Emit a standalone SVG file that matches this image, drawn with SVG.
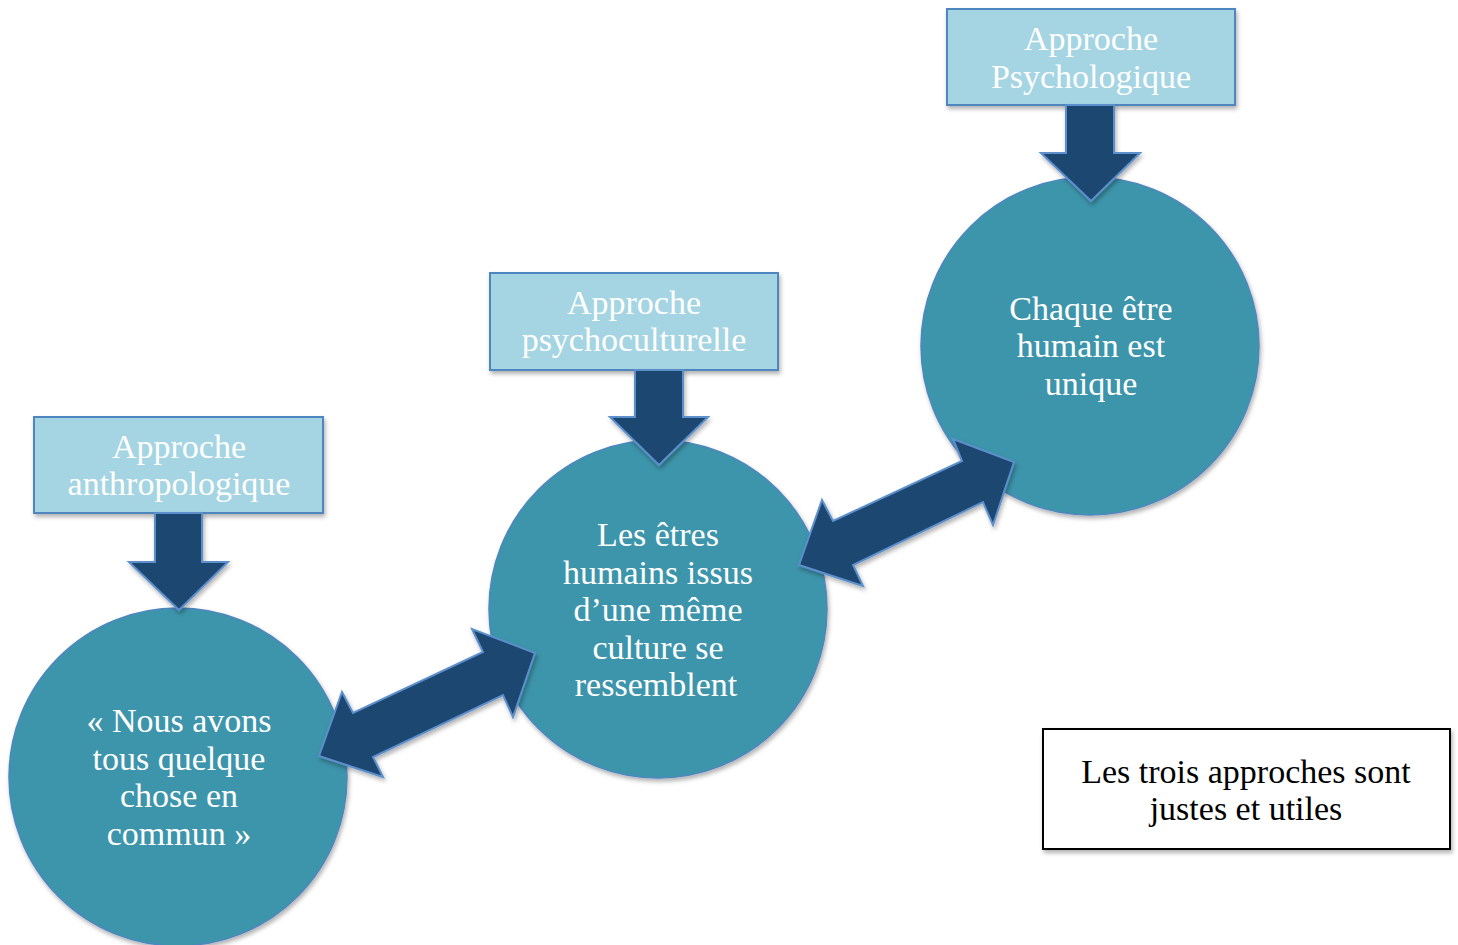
<svg xmlns="http://www.w3.org/2000/svg" width="1458" height="945" viewBox="0 0 1458 945">
<defs>
<filter id="sh" x="-10%" y="-10%" width="130%" height="130%">
<feDropShadow dx="1.5" dy="3" stdDeviation="2" flood-color="#000" flood-opacity="0.3"/>
</filter>
<style>
.circ{fill:#3d95ab;stroke:#4f86c0;stroke-width:1.5}
.box{fill:#a5d5e3;stroke:#4f86c0;stroke-width:2}
.arr{fill:#1f4670;stroke:#5b8fcc;stroke-width:2;stroke-linejoin:miter}
.note{fill:#fff;stroke:#000;stroke-width:2}
text{font-family:"Liberation Serif","Times New Roman",serif;font-size:34px;text-anchor:middle}
.w{fill:#fff}
.k{fill:#000}
</style>
</defs>
<rect width="1458" height="945" fill="#fff"/>

<g id="circle-anthropologique">
<circle class="circ" cx="178" cy="777" r="169" filter="url(#sh)"/>
<text class="w" x="179" y="732">« Nous avons</text>
<text class="w" x="179" y="770">tous quelque</text>
<text class="w" x="179" y="807">chose en</text>
<text class="w" x="179" y="845">commun »</text>
</g>

<g id="circle-psychoculturelle">
<circle class="circ" cx="658" cy="609" r="169" filter="url(#sh)"/>
<text class="w" x="658" y="546">Les êtres</text>
<text class="w" x="658" y="584">humains issus</text>
<text class="w" x="658" y="621">d’une même</text>
<text class="w" x="658" y="659">culture se</text>
<text class="w" x="656" y="696">ressemblent</text>
</g>

<g id="circle-psychologique">
<circle class="circ" cx="1090" cy="346" r="169" filter="url(#sh)"/>
<text class="w" x="1091" y="320">Chaque être</text>
<text class="w" x="1091" y="357">humain est</text>
<text class="w" x="1091" y="395">unique</text>
</g>

<g id="box-anthropologique">
<rect class="box" x="34" y="417" width="289" height="96" filter="url(#sh)"/>
<text class="w" x="179" y="458">Approche</text>
<text class="w" x="179" y="495">anthropologique</text>
</g>

<g id="box-psychoculturelle">
<rect class="box" x="490" y="273" width="288" height="97" filter="url(#sh)"/>
<text class="w" x="634" y="314">Approche</text>
<text class="w" x="634" y="351">psychoculturelle</text>
</g>

<g id="box-psychologique">
<rect class="box" x="947" y="9" width="288" height="96" filter="url(#sh)"/>
<text class="w" x="1091" y="50">Approche</text>
<text class="w" x="1091" y="88">Psychologique</text>
</g>

<g id="note">
<rect class="note" x="1043" y="729" width="407" height="120" filter="url(#sh)"/>
<text class="k" x="1246" y="783">Les trois approches sont</text>
<text class="k" x="1246" y="820">justes et utiles</text>
</g>

<g id="connectors">
<polygon class="arr" filter="url(#sh)" points="155,513 202,513 202,562 228,562 179,610 129,562 155,562"/>
<polygon class="arr" filter="url(#sh)" points="635,370 683,370 683,417 708,417 659,465 610,417 635,417"/>
<polygon class="arr" filter="url(#sh)" points="1066,105 1114,105 1114,153 1140,153 1091,201 1041,153 1066,153"/>
<polygon class="arr" filter="url(#sh)" points="319,756 342,692 353,713 483,652 472,629 535,653 513,717 503,695 373,757 383,777"/>
<polygon class="arr" filter="url(#sh)" points="799,565 822,500 833,521 962,461 953,439 1014,462 993,525 983,502 853,565 863,586"/>
</g>
</svg>
